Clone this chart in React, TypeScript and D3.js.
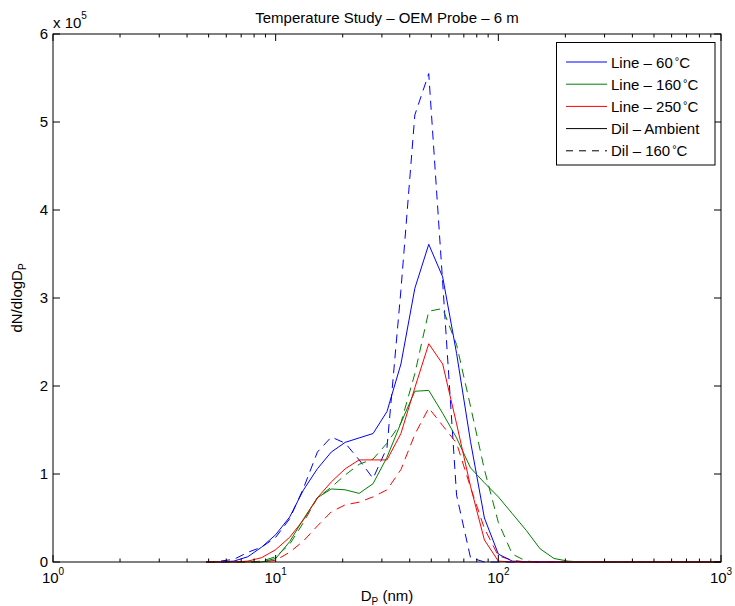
import React from "react";
import * as d3 from "d3";

// Particle diameters (nm), 16 channels per decade
const diameters = [4.87, 5.62, 6.49, 7.5, 8.66, 10, 11.55, 13.34, 15.4, 17.78, 20.54, 23.71, 27.38, 31.62, 36.52, 42.17, 48.7, 56.23, 64.94, 74.99, 86.6, 100, 115.5, 133.4, 154, 177.8, 205.4, 237.1, 273.8, 316.2, 365.2, 421.7, 487, 562.3, 649.4, 749.9, 866, 1000];

// dN/dlogDp values in units of 1e5
const line60 = [0, 0, 0.01, 0.06, 0.17, 0.31, 0.51, 0.82, 1.06, 1.25, 1.36, 1.41, 1.46, 1.71, 2.25, 3.11, 3.61, 3.24, 2.37, 1.37, 0.5, 0.09, 0.01, 0, 0, 0, 0, 0, 0, 0, 0, 0, 0, 0, 0, 0, 0, 0];
const line160 = [0, 0, 0, 0, 0, 0.04, 0.23, 0.49, 0.73, 0.83, 0.82, 0.78, 0.89, 1.19, 1.58, 1.94, 1.95, 1.69, 1.41, 1.07, 0.9, 0.74, 0.55, 0.36, 0.15, 0.04, 0.01, 0, 0, 0, 0, 0, 0, 0, 0, 0, 0, 0];
const line250 = [0, 0, 0, 0.01, 0.05, 0.14, 0.28, 0.48, 0.73, 0.91, 1.06, 1.16, 1.16, 1.16, 1.46, 1.98, 2.48, 2.25, 1.57, 0.86, 0.25, 0.01, 0, 0, 0, 0, 0, 0, 0, 0, 0, 0, 0, 0, 0, 0, 0, 0];
const dilBlue = [0, 0.01, 0.03, 0.11, 0.17, 0.28, 0.49, 0.84, 1.25, 1.42, 1.35, 1.16, 0.95, 1.3, 3.09, 5.08, 5.55, 3.18, 0.76, 0.05, 0, 0, 0, 0, 0, 0, 0, 0, 0, 0, 0, 0, 0, 0, 0, 0, 0, 0];
const dilGreen = [0, 0, 0, 0, 0.01, 0.06, 0.2, 0.45, 0.73, 0.85, 0.99, 1.11, 1.17, 1.35, 1.58, 2.14, 2.85, 2.88, 2.47, 1.77, 1.05, 0.45, 0.09, 0.01, 0, 0, 0, 0, 0, 0, 0, 0, 0, 0, 0, 0, 0, 0];
const dilRed = [0, 0, 0, 0, 0, 0.02, 0.11, 0.24, 0.41, 0.57, 0.65, 0.68, 0.74, 0.82, 1.05, 1.45, 1.75, 1.55, 1.35, 0.85, 0.38, 0.07, 0.02, 0, 0, 0, 0, 0, 0, 0, 0, 0, 0, 0, 0, 0, 0, 0];

const yTicks = [0, 1, 2, 3, 4, 5, 6];
const xMajor = [1, 10, 100, 1000];
const xMajorExp = ["0", "1", "2", "3"];
const legendLabels = ["Line – 60", "Line – 160", "Line – 250", "Dil – Ambient", "Dil – 160"];
const legendDegree = [true, true, true, false, true];

const FONT = "'Liberation Sans', Arial, Helvetica, sans-serif";
const L = 53, R = 721, T = 34, B = 562;
const DASH = "9,6";

export default function App() {
  const x = d3.scaleLog().domain([1, 1000]).range([L, R]);
  const y = d3.scaleLinear().domain([0, 6]).range([B, T]);
  const gen = d3
    .line<number>()
    .x((_, i) => x(diameters[i]))
    .y((d) => y(d));

  const series = [
    { v: dilBlue, c: "#0000ff", dash: DASH },
    { v: dilGreen, c: "#008000", dash: DASH },
    { v: dilRed, c: "#ff0000", dash: DASH },
    { v: line60, c: "#0000ff", dash: undefined },
    { v: line160, c: "#008000", dash: undefined },
    { v: line250, c: "#ff0000", dash: undefined },
  ];

  const minor: number[] = [];
  [1, 10, 100].forEach((d) => {
    for (let m = 2; m <= 9; m++) minor.push(m * d);
  });

  const legendColors = ["#0000ff", "#008000", "#ff0000", "#000000", "#000000"];
  const legendDash = [undefined, undefined, undefined, undefined, "7,6"];
  const legY0 = 62;
  const legDy = 22.2;

  return (
    <svg
      width={735}
      height={606}
      style={{ position: "absolute", left: 0, top: 0, background: "#fff" }}
      fontFamily={FONT}
    >
      <rect x={0} y={0} width={735} height={606} fill="#fff" />
      <defs>
        <clipPath id="plotclip">
          <rect x={L} y={T - 1} width={R - L} height={B - T + 2} />
        </clipPath>
      </defs>

      {/* Title */}
      <text x={(L + R) / 2} y={23} textAnchor="middle" fontSize={15}>
        Temperature Study – OEM Probe – 6 m
      </text>

      {/* exponent marker */}
      <text x={L} y={28} fontSize={15}>
        x 10
        <tspan fontSize={10} dy={-9}>5</tspan>
      </text>

      {/* data lines */}
      <g clipPath="url(#plotclip)">
        {series.map((s, i) => (
          <path
            key={i}
            d={gen(s.v) || ""}
            fill="none"
            stroke={s.c}
            strokeWidth={1}
            strokeDasharray={s.dash}
          />
        ))}
      </g>

      {/* axes box */}
      <rect x={L} y={T} width={R - L} height={B - T} fill="none" stroke="#000" strokeWidth={1} />

      {/* y ticks */}
      {yTicks.map((t) => (
        <g key={"y" + t}>
          <line x1={L} x2={L + 7} y1={y(t)} y2={y(t)} stroke="#000" />
          <line x1={R} x2={R - 7} y1={y(t)} y2={y(t)} stroke="#000" />
          <text x={48} y={y(t) + 5.3} textAnchor="end" fontSize={15}>
            {t}
          </text>
        </g>
      ))}

      {/* x major ticks */}
      {xMajor.map((t, i) => (
        <g key={"x" + t}>
          <line x1={x(t)} x2={x(t)} y1={B} y2={B - 7} stroke="#000" />
          <line x1={x(t)} x2={x(t)} y1={T} y2={T + 7} stroke="#000" />
          <text x={x(t)} y={583} textAnchor="middle" fontSize={15}>
            10
            <tspan fontSize={10} dy={-8}>{xMajorExp[i]}</tspan>
          </text>
        </g>
      ))}
      {/* x minor ticks */}
      {minor.map((t) => (
        <g key={"m" + t}>
          <line x1={x(t)} x2={x(t)} y1={B} y2={B - 3.5} stroke="#000" />
          <line x1={x(t)} x2={x(t)} y1={T} y2={T + 3.5} stroke="#000" />
        </g>
      ))}

      {/* axis labels */}
      <text x={(L + R) / 2} y={601} textAnchor="middle" fontSize={15}>
        D
        <tspan fontSize={10} dy={4}>P</tspan>
        <tspan dy={-4}> (nm)</tspan>
      </text>
      <text transform={`translate(22, ${(T + B) / 2}) rotate(-90)`} textAnchor="middle" fontSize={15}>
        dN/dlogD
        <tspan fontSize={10} dy={4}>P</tspan>
      </text>

      {/* legend */}
      <rect x={556.5} y={42.5} width={158.5} height={122.5} fill="#fff" stroke="#000" strokeWidth={1} />
      {legendLabels.map((lab, i) => {
        const ly = legY0 + i * legDy;
        return (
          <g key={"l" + i}>
            <line x1={566} x2={607} y1={ly} y2={ly} stroke={legendColors[i]} strokeWidth={1} strokeDasharray={legendDash[i]} />
            <text x={611} y={ly + 5.5} fontSize={15}>
              {lab}
              {legendDegree[i] ? (
                <>
                  <tspan fontSize={11} dy={-3} dx={2}>°</tspan>
                  <tspan dy={3}>C</tspan>
                </>
              ) : null}
            </text>
          </g>
        );
      })}
    </svg>
  );
}
